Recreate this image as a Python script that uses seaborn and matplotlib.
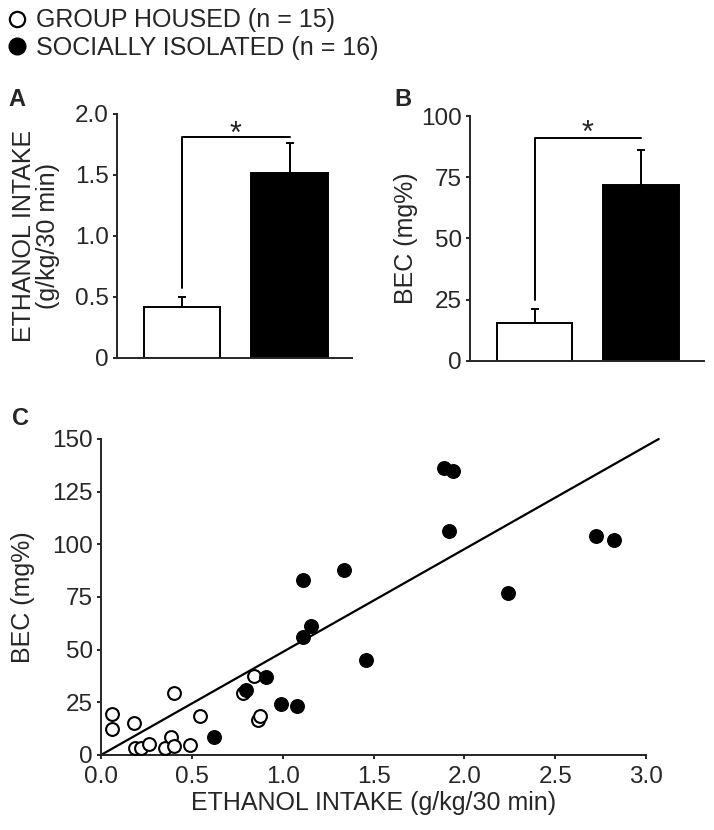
import matplotlib
matplotlib.use("Agg")
import matplotlib.pyplot as plt
from matplotlib.lines import Line2D
import seaborn as sns
import pandas as pd

# group means and SEM
groups = ["GROUP HOUSED", "SOCIALLY ISOLATED"]
intake_mean = [0.42, 1.52]
intake_sem = [0.08, 0.24]
bec_mean = [15.3, 72.0]
bec_sem = [5.7, 14.3]

# individual animals, panel C
gh_intake = [0.06, 0.06, 0.18, 0.185, 0.22, 0.265, 0.35, 0.385, 0.40, 0.40, 0.49, 0.545, 0.78, 0.84, 0.866, 0.873]
gh_bec = [19.3, 12.2, 15.0, 3.2, 3.2, 5.1, 3.2, 8.4, 4.4, 29.3, 4.7, 18.7, 29.3, 37.5, 16.6, 18.5]
si_intake = [0.62, 0.797, 0.91, 0.99, 1.08, 1.114, 1.114, 1.155, 1.34, 1.458, 1.89, 1.938, 1.918, 2.24, 2.724, 2.824]
si_bec = [8.7, 30.8, 37.2, 24.1, 23.3, 83.1, 56.2, 61.2, 87.8, 44.9, 136.2, 134.8, 106.5, 76.7, 103.9, 102.0]

# regression line end points
fit_x = [0.0, 3.07]
fit_y = [0.0, 150.0]

sns.set_style("ticks")
plt.rcParams["font.family"] = ["Liberation Sans", "DejaVu Sans"]
plt.rcParams["axes.linewidth"] = 1.4
plt.rcParams["xtick.major.width"] = 1.4
plt.rcParams["ytick.major.width"] = 1.4

fig = plt.figure(figsize=(7.14, 8.30), dpi=100)
axA = fig.add_axes([0.1639, 0.5687, 0.3291, 0.294])
axB = fig.add_axes([0.6583, 0.5654, 0.3277, 0.2948])
axC = fig.add_axes([0.1415, 0.0904, 0.7633, 0.3807])

lab_fs = 18
tick_fs = 17.5


def bar_panel(ax, means, sems, ylim, yticks, yticklabels, ylabel, bracket, xlim, pad):
    df = pd.DataFrame({"group": groups, "val": means})
    sns.barplot(data=df, x="group", y="val", hue="group", palette=["white", "black"],
                edgecolor="black", linewidth=1.4, width=0.71, legend=False, ax=ax)
    ax.errorbar([0, 1], means, yerr=[[0, 0], sems], fmt="none", ecolor="black",
                elinewidth=1.4, capsize=3, capthick=1.4, zorder=1)
    ax.plot([0, 0, 1], [bracket[0], bracket[1], bracket[1]], color="black", lw=1.4, clip_on=False)
    ax.text(0.5, bracket[2], "*", ha="center", va="baseline", fontsize=22)
    ax.set_xlim(*xlim)
    ax.set_ylim(*ylim)
    ax.set_yticks(yticks)
    ax.set_yticklabels(yticklabels, fontsize=tick_fs)
    ax.set_xticks([])
    ax.set_xlabel("")
    ax.set_ylabel(ylabel, fontsize=lab_fs, linespacing=1.0, labelpad=pad)
    ax.tick_params(axis="y", direction="out", length=3, pad=3)
    sns.despine(ax=ax)


bar_panel(axA, intake_mean, intake_sem, (0, 2.0), [0, 0.5, 1.0, 1.5, 2.0],
          ["0", "0.5", "1.0", "1.5", "2.0"], "ETHANOL INTAKE\n(g/kg/30 min)",
          (0.57, 1.81, 1.76), (-0.605, 1.58), 11)
bar_panel(axB, bec_mean, bec_sem, (0, 100), [0, 25, 50, 75, 100],
          ["0", "25", "50", "75", "100"], "BEC (mg%)",
          (25, 91, 89.5), (-0.607, 1.595), 2)

# panel C
sns.scatterplot(x=gh_intake, y=gh_bec, color="white", edgecolor="black", linewidth=1.5,
                s=85, ax=axC, zorder=3, clip_on=False)
sns.scatterplot(x=si_intake, y=si_bec, color="black", edgecolor="black", linewidth=1.0,
                s=95, ax=axC, zorder=4, clip_on=False)
axC.plot(fit_x, fit_y, color="black", lw=1.6, clip_on=False, zorder=2)
axC.set_xlim(0, 3.0)
axC.set_ylim(0, 150)
axC.set_xticks([0, 0.5, 1.0, 1.5, 2.0, 2.5, 3.0])
axC.set_xticklabels(["0.0", "0.5", "1.0", "1.5", "2.0", "2.5", "3.0"], fontsize=tick_fs)
axC.set_yticks([0, 25, 50, 75, 100, 125, 150])
axC.set_yticklabels(["0", "25", "50", "75", "100", "125", "150"], fontsize=tick_fs)
axC.tick_params(axis="y", direction="out", length=3, pad=3)
axC.tick_params(axis="x", direction="out", length=3, pad=5)
axC.set_xlabel("ETHANOL INTAKE (g/kg/30 min)", fontsize=lab_fs, labelpad=2)
axC.set_ylabel("BEC (mg%)", fontsize=lab_fs, labelpad=12)
sns.despine(ax=axC)

# panel letters
fig.text(0.012, 0.880, "A", fontsize=17, fontweight="bold", va="center")
fig.text(0.553, 0.880, "B", fontsize=17, fontweight="bold", va="center")
fig.text(0.017, 0.496, "C", fontsize=17, fontweight="bold", va="center")

handles = [
    Line2D([], [], ls="", marker="o", mfc="white", mec="black", mew=1.6, ms=11),
    Line2D([], [], ls="", marker="o", mfc="black", mec="black", mew=1.0, ms=12),
]
fig.legend(handles, ["GROUP HOUSED (n = 15)", "SOCIALLY ISOLATED (n = 16)"],
           loc="upper left", bbox_to_anchor=(-0.022, 1.017), frameon=False,
           fontsize=18, handlelength=0.8, handletextpad=0.35, labelspacing=0.15)

fig.savefig("out.png", dpi=100)
